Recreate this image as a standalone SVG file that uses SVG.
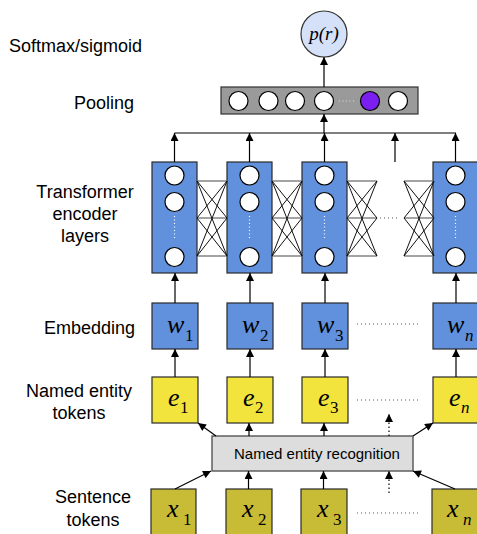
<svg xmlns="http://www.w3.org/2000/svg" width="477" height="534" viewBox="0 0 477 534">
<defs>
<marker id="ah" viewBox="0 0 10 10" refX="10" refY="5" markerWidth="9" markerHeight="8" markerUnits="userSpaceOnUse" orient="auto">
<path d="M0,0 L10,5 L0,10 z" fill="#000"/>
</marker>
<style>
.lbl{font-family:"Liberation Sans",Arial,sans-serif;font-size:18px;fill:#000}
.mid{text-anchor:middle}
.m{font-family:"Liberation Serif","Times New Roman",serif;font-style:italic;font-size:26px;fill:#000}
.sub{font-style:normal;font-size:17px}
.subi{font-style:italic;font-size:17px}
.blue{fill:#6190dc;stroke:#2a2a2a;stroke-width:1.2}
.yel{fill:#f2e43d;stroke:#2a2a2a;stroke-width:1.2}
.olv{fill:#c8bb36;stroke:#2a2a2a;stroke-width:1.2}
.node{fill:#fff;stroke:#000;stroke-width:1.2}
.wdot{stroke:#fff;stroke-width:1.2;stroke-dasharray:1 2.5}
.dots{stroke:#555;stroke-width:1;stroke-dasharray:1 3;fill:none}
.arr{stroke:#000;stroke-width:1.2;fill:none;marker-end:url(#ah)}
.darr{stroke:#000;stroke-width:1.2;fill:none;stroke-dasharray:1.5 2.5;marker-end:url(#ah)}
.ln{stroke:#000;stroke-width:1.2;fill:none}
.x{stroke:#111;stroke-width:1;fill:none}
.xh{stroke:#666;stroke-width:1.2;fill:none}
</style>
<g id="col">
<circle class="node" cx="22.5" cy="13.5" r="9.5"/>
<circle class="node" cx="22.5" cy="40" r="9.5"/>
<line class="wdot" x1="22.5" y1="54" x2="22.5" y2="78"/>
<circle class="node" cx="22.5" cy="95" r="9.5"/>
</g>
<g id="cross">
<line class="xh" x1="0" y1="0" x2="30" y2="0"/>
<line class="xh" x1="0" y1="37" x2="30" y2="37"/>
<line class="xh" x1="0" y1="75" x2="30" y2="75"/>
<line class="x" x1="0" y1="0" x2="30" y2="37"/>
<line class="x" x1="0" y1="0" x2="30" y2="75"/>
<line class="x" x1="0" y1="37" x2="30" y2="0"/>
<line class="x" x1="0" y1="37" x2="30" y2="75"/>
<line class="x" x1="0" y1="75" x2="30" y2="0"/>
<line class="x" x1="0" y1="75" x2="30" y2="37"/>
</g>
</defs>

<g id="labels">
<text class="lbl" x="9" y="52">Softmax/sigmoid</text>
<text class="lbl" x="74" y="109">Pooling</text>
<text class="lbl mid" x="85" y="198">Transformer</text>
<text class="lbl mid" x="85" y="220">encoder</text>
<text class="lbl mid" x="85" y="242">layers</text>
<text class="lbl" x="44" y="334">Embedding</text>
<text class="lbl mid" x="79" y="397">Named entity</text>
<text class="lbl mid" x="79" y="419">tokens</text>
<text class="lbl mid" x="93" y="503">Sentence</text>
<text class="lbl mid" x="93" y="526">tokens</text>
</g>

<g id="output">
<circle cx="324" cy="34" r="23" fill="#d4e1f8" stroke="#333" stroke-width="1.2"/>
<text class="m" x="324" y="40" text-anchor="middle" style="font-size:19px">p(r)</text>
</g>

<g id="pooling">
<rect x="221" y="87" width="197" height="27" fill="#9a9a9a" stroke="#333" stroke-width="1.2"/>
<circle class="node" cx="238.5" cy="101" r="9.5"/>
<circle class="node" cx="268.5" cy="101" r="9.5"/>
<circle class="node" cx="295" cy="101" r="9.5"/>
<circle class="node" cx="324" cy="101" r="9.5"/>
<line x1="339" y1="101" x2="354" y2="101" stroke="#ddd" stroke-width="1" stroke-dasharray="1 2.5"/>
<circle cx="370" cy="101" r="9.5" fill="#7b1ff0" stroke="#000" stroke-width="1.2"/>
<circle class="node" cx="398" cy="101" r="9.5"/>
</g>

<g id="transformer1"><rect class="blue" x="152" y="162" width="45" height="111"/><use href="#col" x="152" y="162"/></g>
<g id="transformer2"><rect class="blue" x="227" y="162" width="45" height="111"/><use href="#col" x="227" y="162"/></g>
<g id="transformer3"><rect class="blue" x="302" y="162" width="45" height="111"/><use href="#col" x="302" y="162"/></g>
<g id="transformern"><rect class="blue" x="433" y="162" width="45" height="111"/><use href="#col" x="433" y="162"/></g>

<g id="emb1"><rect class="blue" x="152" y="303" width="46" height="46"/><text class="m" x="167" y="333">w<tspan class="sub" x="185" y="341">1</tspan></text></g>
<g id="emb2"><rect class="blue" x="227" y="303" width="46" height="46"/><text class="m" x="242" y="333">w<tspan class="sub" x="260" y="341">2</tspan></text></g>
<g id="emb3"><rect class="blue" x="302" y="303" width="46" height="46"/><text class="m" x="317" y="333">w<tspan class="sub" x="335" y="341">3</tspan></text></g>
<g id="embn"><rect class="blue" x="433" y="303" width="46" height="46"/><text class="m" x="447" y="333">w<tspan class="subi" x="465" y="341">n</tspan></text></g>

<g id="ent1"><rect class="yel" x="152" y="377" width="46" height="46"/><text class="m" x="168" y="406">e<tspan class="sub" x="180" y="413">1</tspan></text></g>
<g id="ent2"><rect class="yel" x="227" y="377" width="46" height="46"/><text class="m" x="243" y="406">e<tspan class="sub" x="255" y="413">2</tspan></text></g>
<g id="ent3"><rect class="yel" x="302" y="377" width="46" height="46"/><text class="m" x="318" y="406">e<tspan class="sub" x="330" y="413">3</tspan></text></g>
<g id="entn"><rect class="yel" x="433" y="377" width="46" height="46"/><text class="m" x="449" y="406">e<tspan class="subi" x="461" y="413">n</tspan></text></g>

<g id="ner">
<rect x="212" y="436" width="201" height="35" fill="#dcdddc" stroke="#555" stroke-width="1.4"/>
<text class="lbl mid" x="317" y="459" style="font-size:15px">Named entity recognition</text>
</g>

<g id="tok1"><rect class="olv" x="151" y="489" width="45" height="47"/><text class="m" x="167" y="517">x<tspan class="sub" x="183" y="525">1</tspan></text></g>
<g id="tok2"><rect class="olv" x="226" y="489" width="46" height="47"/><text class="m" x="242" y="517">x<tspan class="sub" x="258" y="525">2</tspan></text></g>
<g id="tok3"><rect class="olv" x="301" y="489" width="46" height="47"/><text class="m" x="317" y="517">x<tspan class="sub" x="333" y="525">3</tspan></text></g>
<g id="tokn"><rect class="olv" x="432" y="489" width="46" height="47"/><text class="m" x="447" y="517">x<tspan class="subi" x="463" y="525">n</tspan></text></g>

<g id="connectors">
<!-- pooling to output -->
<line class="arr" x1="324" y1="87" x2="324" y2="57"/>
<!-- bus to pooling -->
<line class="arr" x1="324" y1="133" x2="324" y2="114"/>
<line class="ln" x1="174.5" y1="133" x2="456" y2="133"/>
<line class="arr" x1="174.5" y1="162" x2="174.5" y2="133"/>
<line class="arr" x1="249.5" y1="162" x2="249.5" y2="133"/>
<line class="arr" x1="324.5" y1="162" x2="324.5" y2="133"/>
<line class="arr" x1="395" y1="162" x2="395" y2="133"/>
<line class="arr" x1="455.5" y1="162" x2="455.5" y2="133"/>
<!-- cross connections -->
<use href="#cross" x="197" y="181"/>
<use href="#cross" x="272" y="181"/>
<use href="#cross" x="347" y="181"/>
<use href="#cross" x="404" y="181"/>
<line class="dots" x1="380" y1="218" x2="399" y2="218"/>
<!-- embedding to transformer -->
<line class="arr" x1="175" y1="303" x2="175" y2="273"/>
<line class="arr" x1="250" y1="303" x2="250" y2="273"/>
<line class="arr" x1="325" y1="303" x2="325" y2="273"/>
<line class="arr" x1="456" y1="303" x2="456" y2="273"/>
<!-- entity to embedding -->
<line class="arr" x1="175" y1="377" x2="175" y2="349"/>
<line class="arr" x1="250" y1="377" x2="250" y2="349"/>
<line class="arr" x1="325" y1="377" x2="325" y2="349"/>
<line class="arr" x1="456" y1="377" x2="456" y2="349"/>
<!-- NER to entity -->
<line class="arr" x1="216" y1="436" x2="198" y2="423"/>
<line class="arr" x1="249" y1="436" x2="249" y2="423"/>
<line class="arr" x1="324" y1="436" x2="324" y2="423"/>
<line class="darr" x1="389" y1="436" x2="389" y2="414"/>
<line class="arr" x1="413" y1="436" x2="433" y2="423"/>
<!-- tokens to NER -->
<line class="arr" x1="175" y1="489" x2="211" y2="471"/>
<line class="arr" x1="248.5" y1="489" x2="248.5" y2="471"/>
<line class="arr" x1="323.5" y1="489" x2="323.5" y2="471"/>
<line class="darr" x1="389" y1="493" x2="389" y2="471"/>
<line class="arr" x1="455" y1="489" x2="413" y2="471"/>
<!-- ellipsis dots -->
<line class="dots" x1="357" y1="324" x2="418" y2="324"/>
<line class="dots" x1="357" y1="400" x2="418" y2="400"/>
<line class="dots" x1="357" y1="513" x2="418" y2="513"/>
</g>
</svg>
